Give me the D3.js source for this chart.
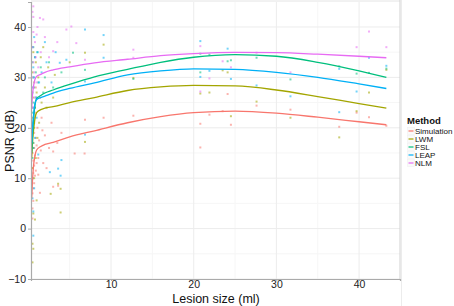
<!DOCTYPE html>
<html><head><meta charset="utf-8">
<script src="https://cdn.jsdelivr.net/npm/d3@7"></script>
<style>body{margin:0;background:#fff}svg{display:block}text{font-family:"Liberation Sans",Arial,sans-serif}</style>
</head><body><svg id="c" width="454" height="306"></svg>
<script>
const methods = ["Simulation","LWM","FSL","LEAP","NLM"];
const colors = ["#F8766D","#A3A500","#00BF7D","#00B0F6","#E76BF3"];
const xTicks = [10,20,30,40];
const yTicks = [-10,0,10,20,30,40];

const curveX = [0.4,0.5,0.6,0.8,1.0,1.5,2,3,5,8,12,16,20,25,30,35,40,43.3];
const curveSim  = [6,9.5,12,14.5,15.6,16.3,16.7,17.1,18.2,19.4,21.0,22.2,23.0,23.3,22.9,22.1,21.2,20.6];
const curveLWM  = [14,17,19,21.8,23.0,23.6,23.9,24.2,25.0,26.0,27.4,28.1,28.4,28.3,27.5,26.2,24.8,23.9];
const curveFSL  = [15,18.5,21,24.5,25.8,26.4,26.9,27.5,28.6,30.1,31.6,33.0,34.0,34.5,34.2,33.0,31.3,30.0];
const curveLEAP = [17,20,22,24.8,25.6,26.0,26.3,26.9,27.8,28.9,30.5,31.3,31.7,31.6,31.0,30.0,28.7,27.8];
const curveNLM  = [24,26.5,28,29.6,30.2,30.6,31.0,31.5,32.1,32.9,33.6,34.3,34.7,34.95,34.9,34.6,34.2,33.9];
const curves = [curveSim,curveLWM,curveFSL,curveLEAP,curveNLM];

const ptsSim = [[0.5,2],[0.5,4],[0.6,5.5],[0.5,7],[0.6,8],[0.7,9],[0.5,10],[0.8,10.5],[0.6,11],[0.9,11.5],[0.5,12],[0.7,12.5],[1.0,13],[0.6,13.5],[1.2,14],[0.8,14.5],[0.5,15],[1.5,15.5],[0.7,16],[1.0,16.5],[0.6,17],[1.3,17.5],[0.9,18],[2.0,18.5],[0.7,19],[1.1,20],[0.6,21],[1.6,22],[0.8,23],[0.5,24],[1.4,26],[0.9,28],[1.2,10.7],[1.4,7.1],[1.8,13.0],[3.0,8.3],[3.6,8.5],[3.0,15.3],[5.6,14.9],[6.8,14.9],[2.2,12],[2.5,16],[1.7,19.5],[4.0,19],[2.8,21],[3.5,17],[6.85,21.6],[9.1,22.0],[12.7,22.4],[20.8,20.8],[20.8,16.1],[21.9,22.6],[23.5,23.3],[24.1,26.7],[24.5,20.6],[27.6,24.4],[31.7,23.6],[37.6,20.2],[39.7,23.0],[41.2,22.1],[43.3,20.4]];
const ptsLWM = [[0.5,-6.7],[0.6,-4],[0.5,-3],[0.8,1.8],[1.0,5.6],[2.7,6.9],[3.6,8.9],[3.9,7.9],[3.9,3.2],[0.6,3],[0.7,10],[0.5,12],[0.9,14],[0.6,16],[1.1,18],[0.7,20],[1.3,21],[0.5,22],[0.8,24],[1.6,25],[0.6,26],[1.0,27],[2.0,28],[0.7,29],[1.2,30],[0.5,31],[2.4,32],[0.9,33],[1.5,34],[0.6,35],[3.2,30.5],[5.0,33],[6.85,34.9],[9.1,36.5],[6.85,17.2],[12.7,29.9],[20.8,26.8],[21.9,27.0],[23.5,31.4],[24.1,31.0],[24.5,22.3],[27.6,25.2],[31.7,22.0],[37.6,18.1],[39.7,23.3],[41.2,27.0],[43.3,31.5],[2.2,24],[3.0,26],[1.8,36]];
const ptsFSL = [[0.5,14],[0.6,17],[0.5,19],[0.7,21],[0.5,23],[0.8,24],[0.6,25],[1.0,26],[0.5,27],[0.7,28],[1.2,29],[0.6,30],[0.9,31],[1.5,32],[0.5,33],[0.8,34],[1.1,35],[0.6,36],[2.0,30],[2.5,33],[3.0,28],[1.8,27],[5.4,34.9],[6.85,31.5],[12.7,29.7],[4.0,31],[20.8,34.7],[20.8,31.0],[21.9,34.5],[24.1,33.2],[24.5,33.4],[27.6,33.9],[31.7,29.6],[37.6,32.2],[39.7,30.75],[41.2,30.9],[43.3,31.75]];
const ptsLEAP = [[0.6,-1.4],[0.6,3.4],[0.5,6],[0.7,8],[0.5,10],[1.2,14.7],[2.6,11.2],[3.6,11.9],[3.9,10.5],[4.0,13.6],[0.6,16],[0.8,18],[0.5,20],[1.0,22],[0.6,24],[0.9,26],[0.5,28],[1.3,29],[0.7,30],[1.6,31],[0.6,32],[2.2,33],[0.8,34],[1.1,35],[0.5,36],[2.0,37],[0.7,38],[3.8,32.9],[4.6,33.5],[6.85,29.2],[6.85,18.65],[6.85,39.5],[9.1,38.4],[9.1,33.9],[2.8,29],[3.3,35],[20.8,37.2],[20.8,30.1],[21.9,31.3],[24.1,35.7],[24.5,29.7],[27.6,28.4],[31.7,26.25],[37.6,31.7],[37.6,23.1],[39.7,27.2],[41.2,33.9],[43.3,32.3]];
const ptsNLM = [[0.6,44.1],[0.6,42],[1.4,41.8],[1.8,41.5],[4.6,39.5],[5.2,40.1],[5.8,36.8],[3.0,35.2],[0.5,20],[0.7,22],[0.5,24],[0.8,26],[0.6,28],[1.0,29],[0.5,30],[0.7,31],[1.2,32],[0.6,33],[0.9,34],[1.5,35],[0.5,36],[0.8,37],[2.0,38],[0.6,39],[1.1,40],[2.5,34],[3.5,37],[6.85,33.5],[12.7,35.5],[12.7,33.9],[20.8,36.2],[20.8,27.2],[21.9,29.8],[23.5,33.2],[24.5,32.0],[27.6,34.9],[31.7,31.0],[39.7,36.0],[41.2,39.1],[43.3,36.0],[0.5,43],[1.0,38.5]];
const points = [ptsSim,ptsLWM,ptsFSL,ptsLEAP,ptsNLM];

const svg = d3.select("#c");
const L=31, R=400, T=2, B=279;
const x = d3.scaleLinear().domain([0.32,44.95]).range([L,R]);
const y = d3.scaleLinear().domain([-10,44.96]).range([B,T]);

// grid
const g = svg.append("g");
const xMinor = [5,15,25,35];
const yMinor = [-5,5,15,25,35];
g.selectAll(".xm").data(xMinor).enter().append("line").attr("x1",d=>x(d)).attr("x2",d=>x(d)).attr("y1",T).attr("y2",B).attr("stroke","#f6f6f6");
g.selectAll(".ym").data(yMinor).enter().append("line").attr("x1",L).attr("x2",R).attr("y1",d=>y(d)).attr("y2",d=>y(d)).attr("stroke","#f6f6f6");
g.selectAll(".xM").data(xTicks).enter().append("line").attr("x1",d=>x(d)).attr("x2",d=>x(d)).attr("y1",T).attr("y2",B).attr("stroke","#ececec");
g.selectAll(".yM").data(yTicks).enter().append("line").attr("x1",L).attr("x2",R).attr("y1",d=>y(d)).attr("y2",d=>y(d)).attr("stroke","#ececec");

// borders
svg.append("line").attr("x1",L).attr("x2",R).attr("y1",T-1).attr("y2",T-1).attr("stroke","#e4e4e4");
svg.append("line").attr("x1",R).attr("x2",R).attr("y1",0).attr("y2",B).attr("stroke","#d0d0d0");
svg.append("line").attr("x1",R+1.5).attr("x2",R+1.5).attr("y1",0).attr("y2",306).attr("stroke","#ececec");

// points
methods.forEach((m,i)=>{
  svg.append("g").selectAll("rect").data(points[i]).enter().append("rect")
    .attr("x",d=>x(d[0])-1).attr("y",d=>y(d[1])-1).attr("width",2).attr("height",2)
    .attr("fill",colors[i]).attr("opacity",0.55);
});

// curves
const line = d3.line().x((d,j)=>x(curveX[j])).y(d=>y(d)).curve(d3.curveMonotoneX);
methods.forEach((m,i)=>{
  svg.append("path").attr("d",line(curves[i])).attr("fill","none").attr("stroke",colors[i]).attr("stroke-width",1.3);
});

// axes
const xa = svg.append("g").attr("transform",`translate(0,${B})`).call(d3.axisBottom(x).tickValues(xTicks).tickSize(2).tickPadding(0));
const ya = svg.append("g").attr("transform",`translate(${L},0)`).call(d3.axisLeft(y).tickValues(yTicks).tickSize(3).tickPadding(2));
[xa,ya].forEach(a=>{a.select(".domain").attr("stroke","#aaaaaa").attr("stroke-width",1.2);
  a.selectAll(".tick line").attr("stroke","#aaaaaa");
  a.selectAll(".tick text").attr("fill","#222").style("font-size","10.5px").style("font-family","Liberation Sans, Arial, sans-serif");});

svg.append("text").attr("x",216).attr("y",303).attr("text-anchor","middle").style("font-size","12.5px").attr("fill","#111").text("Lesion size (ml)");
svg.append("text").attr("transform","translate(14,141) rotate(-90)").attr("text-anchor","middle").style("font-size","12.5px").attr("fill","#111").text("PSNR (dB)");

// legend
const lg = svg.append("g").attr("transform","translate(407,0)");
lg.append("text").attr("x",0).attr("y",124).style("font-size","9.5px").style("font-weight","bold").attr("fill","#111").text("Method");
methods.forEach((m,i)=>{
  const cy = 131 + i*8;
  lg.append("rect").attr("x",0.5).attr("y",cy-3.5).attr("width",7).attr("height",7).attr("fill","#fafafa").attr("stroke","#eee").attr("stroke-width",0.5);
  lg.append("line").attr("x1",1.5).attr("x2",6.5).attr("y1",cy).attr("y2",cy).attr("stroke",colors[i]).attr("stroke-width",1.2);
  lg.append("text").attr("x",8).attr("y",cy+3).style("font-size","8px").attr("fill","#111").text(m);
});
</script></body></html>
